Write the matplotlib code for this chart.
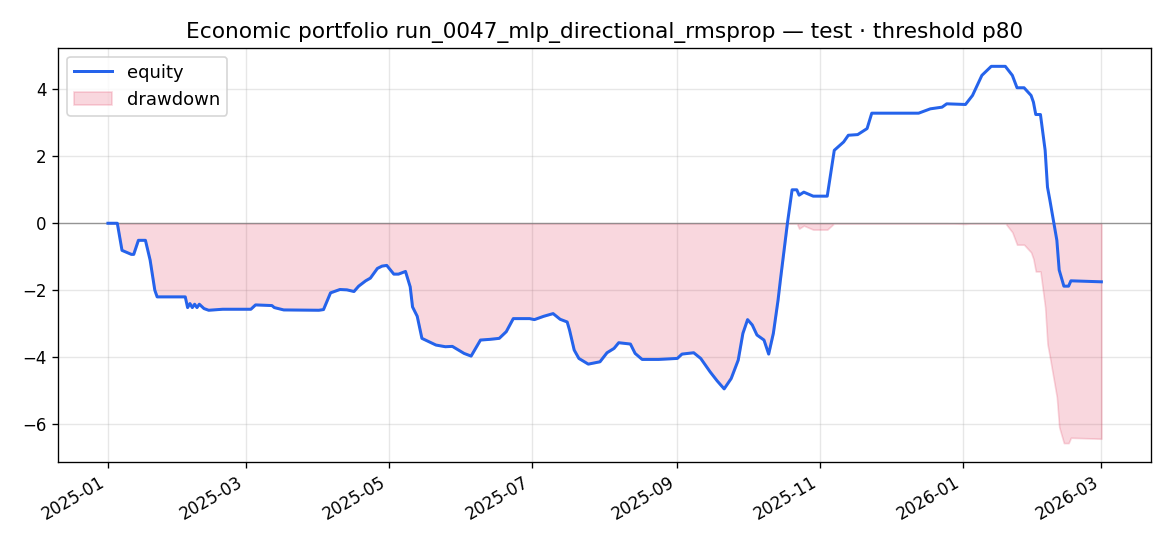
import numpy as np
import pandas as pd
import matplotlib
matplotlib.use('Agg')
from matplotlib import pyplot as plt

start = pd.Timestamp('2025-01-01')
# day offsets from 2025-01-01 and equity
days = [0, 4, 6, 10, 11, 13, 16, 18, 20, 21, 33, 34, 35, 36, 37, 38, 39, 41, 43, 49,
        61, 63, 70, 71, 75, 90, 92, 95, 99, 102, 105, 107, 110, 112, 115, 117, 119,
        122, 124, 127, 129, 130, 132, 134, 137, 140, 144, 147, 152, 155, 159, 163,
        167, 170, 173, 180, 182, 186, 190, 193, 196, 197, 199, 201, 205, 210, 213,
        216, 218, 223, 225, 228, 235, 243, 245, 250, 253, 257, 260, 263, 266, 269,
        271, 273, 275, 277, 280, 282, 284, 286, 287, 290, 292, 294, 295, 297, 301,
        307, 310, 314, 316, 320, 324, 326, 346, 351, 356, 358, 366, 369, 373, 377,
        383, 386, 388, 391, 394, 395, 396, 398, 400, 401, 402, 405, 406, 408, 410,
        411, 424]
equity = [0.0, 0.0, -0.81, -0.93, -0.93, -0.51, -0.51, -1.10, -2.00, -2.20, -2.20,
          -2.52, -2.40, -2.52, -2.42, -2.52, -2.42, -2.55, -2.60, -2.57, -2.57, -2.44,
          -2.46, -2.52, -2.59, -2.60, -2.58, -2.08, -1.98, -1.99, -2.04, -1.88, -1.72,
          -1.64, -1.35, -1.28, -1.26, -1.52, -1.52, -1.44, -1.90, -2.50, -2.78, -3.44,
          -3.54, -3.64, -3.69, -3.68, -3.89, -3.97, -3.49, -3.47, -3.44, -3.24, -2.85,
          -2.85, -2.88, -2.78, -2.70, -2.87, -2.95, -3.19, -3.79, -4.04, -4.21, -4.14,
          -3.87, -3.74, -3.57, -3.61, -3.89, -4.07, -4.07, -4.04, -3.91, -3.87, -4.04,
          -4.44, -4.71, -4.95, -4.64, -4.09, -3.29, -2.88, -3.04, -3.34, -3.49, -3.91,
          -3.29, -2.30, -1.70, 0.00, 1.00, 1.00, 0.84, 0.93, 0.81, 0.81, 2.18, 2.43,
          2.63, 2.65, 2.83, 3.29, 3.29, 3.42, 3.47, 3.57, 3.55, 3.82, 4.42, 4.69, 4.69,
          4.42, 4.05, 4.05, 3.82, 3.62, 3.25, 3.25, 2.18, 1.08, 0.70, -0.51, -1.40,
          -1.88, -1.88, -1.72, -1.75]

dates = start + pd.to_timedelta(days, unit='D')
eq = np.array(equity)
dd = eq - np.maximum.accumulate(eq)

fig, ax = plt.subplots(figsize=(9.75, 4.55), dpi=120)

ax.plot(dates, eq, color='#2563eb', lw=1.8, label='equity', zorder=3)
ax.fill_between(dates, dd, 0, color='#dc143c', alpha=0.17, label='drawdown', zorder=2)
ax.axhline(0, color='gray', lw=0.8, alpha=0.8)
ax.grid(True, alpha=0.3)
ax.set_title('Economic portfolio run_0047_mlp_directional_rmsprop — test · threshold p80',
             fontsize=13)
ax.set_yticks([-6, -4, -2, 0, 2, 4])
ax.legend(loc='upper left', fontsize=10.8, handlelength=2.1)
fig.autofmt_xdate()
fig.subplots_adjust(left=0.0498, right=0.9838, top=0.913, bottom=0.154)
fig.savefig('out.png')
